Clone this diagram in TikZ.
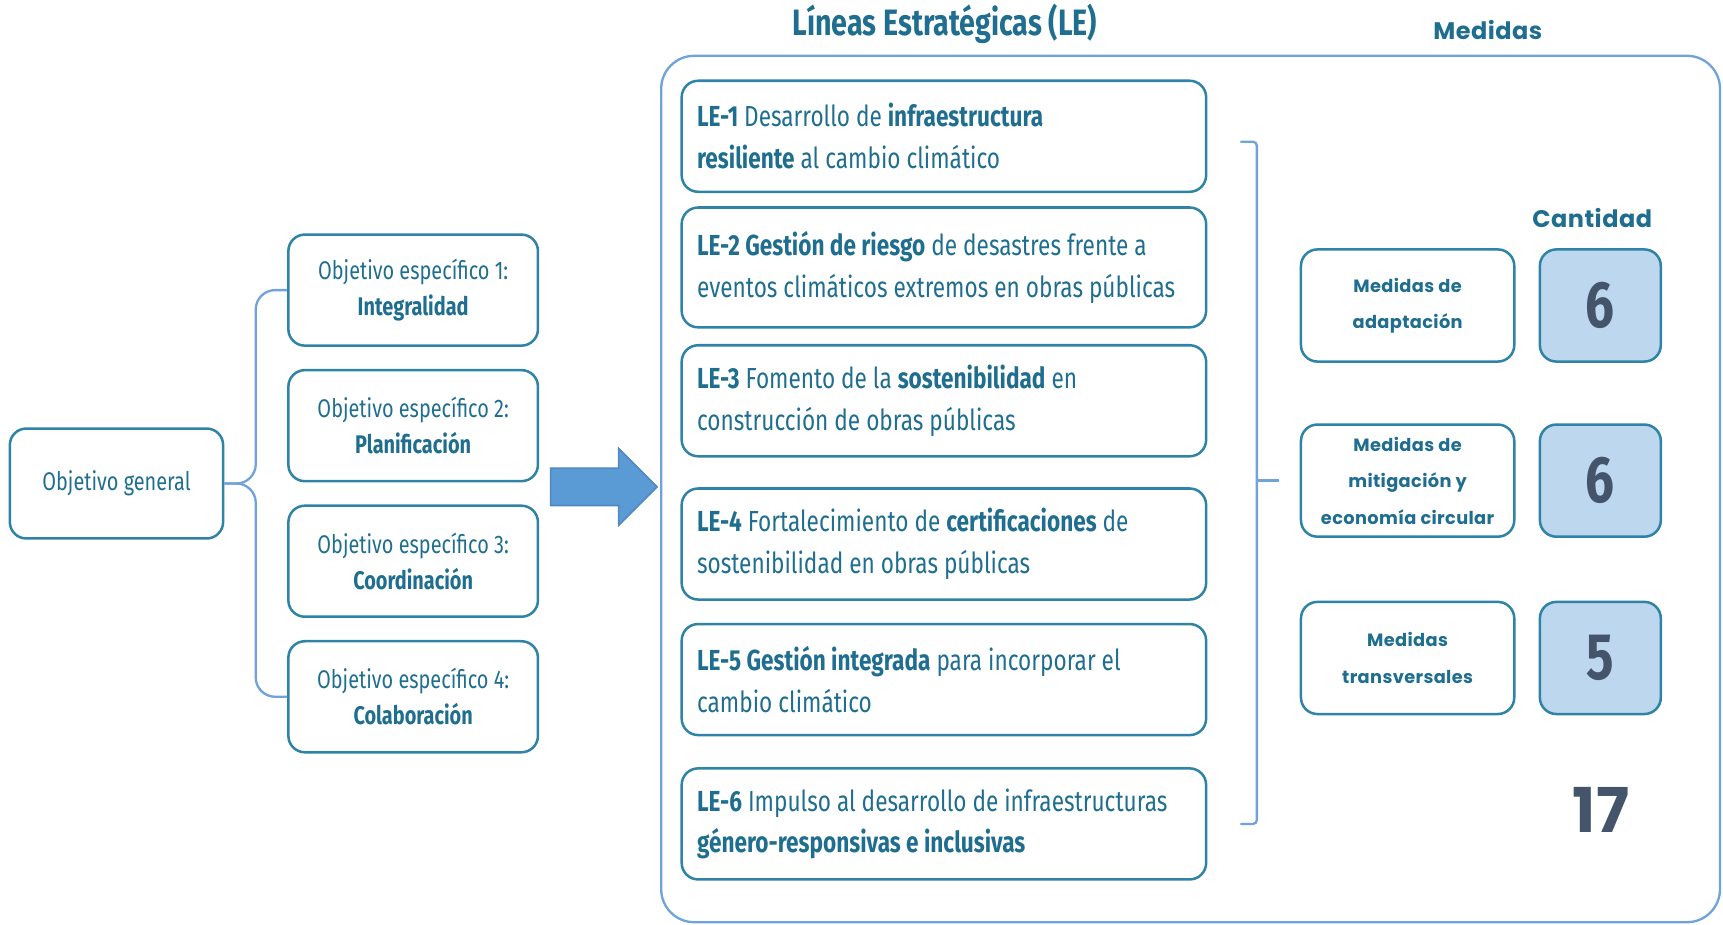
\documentclass[tikz,border=0pt]{standalone}
\usepackage{fontspec}
\setmainfont{Fira Sans}[FakeStretch=0.78]
\newfontfamily\medfont{Poppins}[LetterSpace=2]
\usetikzlibrary{calc,positioning}
\definecolor{ink}{HTML}{1F6E8F}
\definecolor{edge}{HTML}{2F83A6}
\definecolor{frameblue}{HTML}{6FA3DA}
\definecolor{arrowblue}{HTML}{5B9BD5}
\definecolor{arrowedge}{HTML}{4F88C2}
\definecolor{numfill}{HTML}{BDD7EE}
\definecolor{slate}{HTML}{44546A}
\tikzset{
    x=0.01cm, y=-0.01cm, semithick,
    box/.style={draw=edge, rounded corners=0.15cm, line width=0.65pt, text=ink, align=center, inner sep=0pt},
    objbox/.style={box, minimum width=2.27cm, minimum height=1.01cm, font=\fontsize{6.6}{9.4}\selectfont},
    lebox/.style={box, minimum width=4.77cm, minimum height=1.01cm, text width=4.49cm, align=flush left, font=\fontsize{7.5}{10.8}\selectfont},
    medbox/.style={box, minimum width=1.94cm, minimum height=1.02cm, font=\medfont\bfseries\fontsize{4.6}{9.4}\selectfont},
    numbox/.style={box, fill=numfill, minimum width=1.1cm, minimum height=1.02cm, text=slate, font=\bfseries\fontsize{17}{17}\selectfont},
    brace/.style={draw=frameblue, line width=0.6pt, rounded corners=5pt},
    lehead/.style={text=ink, font=\bfseries\fontsize{9.5}{11}\selectfont},
    medhead/.style={text=ink, font=\medfont\bfseries\fontsize{6.2}{8}\selectfont}
}
\begin{document}
\begin{tikzpicture}
    \useasboundingbox (0,0) rectangle (1568,841);
    % Objectives
    \node[objbox, minimum width=1.94cm, minimum height=1.0cm] (general) at (106,440) {Objetivo general};
    \node[objbox] (obj1) at (376,264) {Objetivo específico 1:\\\textbf{Integralidad}};
    \node[objbox] (obj2) [below=0.2cm of obj1] {Objetivo específico 2:\\\textbf{Planificación}};
    \node[objbox] (obj3) [below=0.2cm of obj2] {Objetivo específico 3:\\\textbf{Coordinación}};
    \node[objbox] (obj4) [below=0.2cm of obj3] {Objetivo específico 4:\\\textbf{Colaboración}};
    \coordinate (lbrace) at ($(general.east)!0.5!(general.east -| obj1.west)$);
    \draw[brace] (obj1.west) -| (lbrace) -- (general.east);
    \draw[brace] (obj4.west) -| (lbrace) -- (general.east);
    % Big arrow
    \coordinate (arrowtail) at (501,443);
    \filldraw[fill=arrowblue, draw=arrowedge, line width=0.4pt] (arrowtail) ++(0,-17) -- ++(62,0) -- ++(0,-18) -- ++(35,35) -- ++(-35,35) -- ++(0,-18) -- ++(-62,0) -- cycle;
    % Frame and titles
    \node[draw=frameblue, line width=0.6pt, rounded corners=0.3cm, minimum width=9.63cm, minimum height=7.88cm, inner sep=0pt] (frame) at (1083.5,445) {};
    \node[lehead] (letitle) at (860,22) {Líneas Estratégicas (LE)};
    \node[medhead] (medtitle) at (1354,27) {Medidas};
    % Strategic lines
    \node[lebox] (le1) at (859,124) {\textbf{LE-1} Desarrollo de \textbf{infraestructura}\\\textbf{resiliente} al cambio climático};
    \node[lebox, minimum height=1.09cm] (le2) [below=0.12cm of le1] {\textbf{LE-2 Gestión de riesgo} de desastres frente a\\eventos climáticos extremos en obras públicas};
    \node[lebox] (le3) [below=0.14cm of le2] {\textbf{LE-3} Fomento de la \textbf{sostenibilidad} en\\construcción de obras públicas};
    \node[lebox] (le4) [below=0.27cm of le3] {\textbf{LE-4} Fortalecimiento de \textbf{certificaciones} de\\sostenibilidad en obras públicas};
    \node[lebox] (le5) [below=0.2cm of le4] {\textbf{LE-5 Gestión integrada} para incorporar el\\cambio climático};
    \node[lebox] (le6) [below=0.28cm of le5] {\textbf{LE-6} Impulso al desarrollo de infraestructuras\\\textbf{género-responsivas e inclusivas}};
    % Measures
    \node[medbox] (med1) at (1281,278) {Medidas de\\adaptación};
    \node[medbox] (med2) [below=0.55cm of med1] {Medidas de\\mitigación y\\economía circular};
    \node[medbox] (med3) [below=0.57cm of med2] {Medidas\\transversales};
    \node[numbox] (num1) [right=0.21cm of med1] {6};
    \node[numbox] (num2) [right=0.21cm of med2] {6};
    \node[numbox] (num3) [right=0.21cm of med3] {5};
    \node[medhead] (cantidad) at (1449,198) {Cantidad};
    \node[text=slate, font=\medfont\bfseries\fontsize{16}{16}\selectfont] (total) at (1457,737) {17};
    \coordinate (rtop) at ([xshift=0.3cm,yshift=-0.05cm]le1.east);
    \coordinate (rbot) at ([xshift=0.3cm]le6.east);
    \draw[brace, rounded corners=1pt] (rtop) -- ++(15,0) coordinate (rx) -- (rx |- rbot) -- (rbot);
    \draw[brace] (rx |- med2.west) -- ([xshift=-0.19cm]med2.west);
\end{tikzpicture}
\end{document}
